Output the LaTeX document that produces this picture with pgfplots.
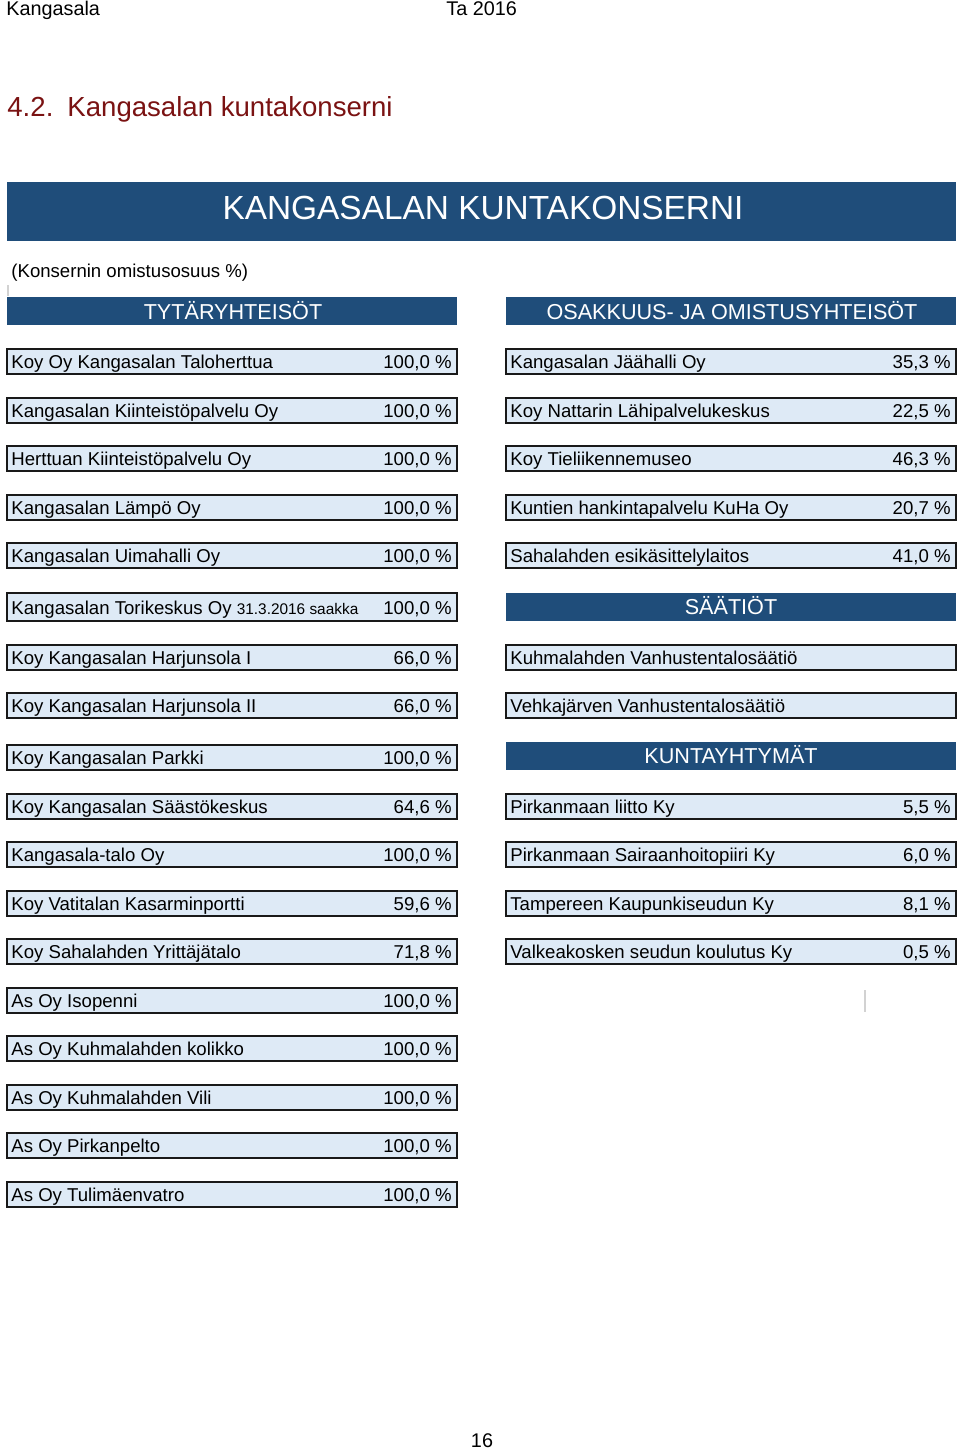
\documentclass[border=0pt]{standalone}
\usepackage{pgfplots}
\pgfplotsset{compat=1.18}
\usepackage{fontspec}
\setmainfont{Liberation Sans}

\definecolor{hdrblue}{RGB}{31,77,122}
\definecolor{cellblue}{RGB}{222,234,246}
\definecolor{titlered}{RGB}{122,18,18}

\pgfkeys{/pgf/number format/.cd, fixed, fixed zerofill, precision=1, use comma, assume math mode=true}
\newcommand{\pct}[1]{\pgfmathprintnumber{#1}~\%}

\tikzset{
  cell/.style={draw=black!90, line width=1pt, fill=cellblue},
  hdr/.style={fill=hdrblue, draw=none},
  txt/.style={font=\fontsize{9.3}{11}\selectfont, inner sep=0pt},
  htxt/.style={font=\fontsize{10.8}{13}\selectfont, text=white, inner sep=0pt, anchor=base},
}

% left column cell: y centre, name, value
\newcommand{\cellL}[3]{%
  \draw[cell] (axis cs:7,{#1-12.5}) rectangle (axis cs:457,{#1+12.5});
  \node[txt, anchor=base west] at (axis cs:11,{#1+7}) {#2};
  \node[txt, anchor=base east] at (axis cs:452,{#1+7}) {\pct{#3}};
}
% right column cell
\newcommand{\cellR}[3]{%
  \draw[cell] (axis cs:506,{#1-12.5}) rectangle (axis cs:956,{#1+12.5});
  \node[txt, anchor=base west] at (axis cs:510,{#1+7}) {#2};
  \node[txt, anchor=base east] at (axis cs:951,{#1+7}) {\pct{#3}};
}
% right column cell without a value
\newcommand{\cellN}[2]{%
  \draw[cell] (axis cs:506,{#1-12.5}) rectangle (axis cs:956,{#1+12.5});
  \node[txt, anchor=base west] at (axis cs:510,{#1+7}) {#2};
}
% right column header bar
\newcommand{\hdrR}[2]{%
  \fill[hdr] (axis cs:506,{#1-14}) rectangle (axis cs:956,{#1+14});
  \node[htxt] at (axis cs:731,{#1+7.5}) {#2};
}

\begin{document}
\begin{tikzpicture}
\begin{axis}[
  scale only axis,
  width=480pt, height=724.5pt,
  xmin=0, xmax=960, ymin=0, ymax=1449,
  y dir=reverse,
  hide axis,
  clip=false,
]
\path (axis cs:0,0) rectangle (axis cs:960,1449);

% page head
\node[inner sep=0pt, anchor=base west, font=\fontsize{9.9}{12}\selectfont] at (axis cs:6,16) {Kangasala};
\node[inner sep=0pt, anchor=base west, font=\fontsize{9.9}{12}\selectfont] at (axis cs:446,16) {Ta 2016};
\node[inner sep=0pt, anchor=base west, text=titlered, font=\fontsize{13.8}{16}\selectfont] at (axis cs:7,117) {4.2.};
\node[inner sep=0pt, anchor=base west, text=titlered, font=\fontsize{13.8}{16}\selectfont] at (axis cs:67,117) {Kangasalan kuntakonserni};

% main banner
\fill[hdr] (axis cs:7,182) rectangle (axis cs:956,241);
\node[inner sep=0pt, anchor=base, text=white, font=\fontsize{16.7}{20}\selectfont] at (axis cs:483,219) {KANGASALAN KUNTAKONSERNI};
\node[txt, anchor=base west] at (axis cs:11,277) {(Konsernin omistusosuus \%)};
\draw[gray!35, line width=0.6pt] (axis cs:8,285) -- (axis cs:8,296);

% section headers
\fill[hdr] (axis cs:7,297) rectangle (axis cs:457,325);
\node[htxt] at (axis cs:233,319) {TYTÄRYHTEISÖT};
\fill[hdr] (axis cs:506,297) rectangle (axis cs:956,325);
\node[htxt] at (axis cs:732,319) {OSAKKUUS- JA OMISTUSYHTEISÖT};

% tytäryhteisöt
\cellL{361.5}{Koy Oy Kangasalan Taloherttua}{100.0}
\cellL{410}{Kangasalan Kiinteistöpalvelu Oy}{100.0}
\cellL{458.5}{Herttuan Kiinteistöpalvelu Oy}{100.0}
\cellL{507}{Kangasalan Lämpö Oy}{100.0}
\cellL{555.5}{Kangasalan Uimahalli Oy}{100.0}
\draw[cell] (axis cs:7,593) rectangle (axis cs:457,621);
\node[txt, anchor=base west] at (axis cs:11,614) {Kangasalan Torikeskus Oy \fontsize{7.7}{9}\selectfont 31.3.2016 saakka};
\node[txt, anchor=base east] at (axis cs:452,614) {\pct{100.0}};
\cellL{657}{Koy Kangasalan Harjunsola I}{66.0}
\cellL{705.5}{Koy Kangasalan Harjunsola II}{66.0}
\cellL{757}{Koy Kangasalan Parkki}{100.0}
\cellL{806}{Koy Kangasalan Säästökeskus}{64.6}
\cellL{854.5}{Kangasala-talo Oy}{100.0}
\cellL{903}{Koy Vatitalan Kasarminportti}{59.6}
\cellL{951.5}{Koy Sahalahden Yrittäjätalo}{71.8}
\cellL{1000}{As Oy Isopenni}{100.0}
\cellL{1048.5}{As Oy Kuhmalahden kolikko}{100.0}
\cellL{1097}{As Oy Kuhmalahden Vili}{100.0}
\cellL{1145.5}{As Oy Pirkanpelto}{100.0}
\cellL{1194}{As Oy Tulimäenvatro}{100.0}

% osakkuus- ja omistusyhteisöt
\cellR{361.5}{Kangasalan Jäähalli Oy}{35.3}
\cellR{410}{Koy Nattarin Lähipalvelukeskus}{22.5}
\cellR{458.5}{Koy Tieliikennemuseo}{46.3}
\cellR{507}{Kuntien hankintapalvelu KuHa Oy}{20.7}
\cellR{555.5}{Sahalahden esikäsittelylaitos}{41.0}

% säätiöt
\hdrR{606.5}{SÄÄTIÖT}
\cellN{657}{Kuhmalahden Vanhustentalosäätiö}
\cellN{705.5}{Vehkajärven Vanhustentalosäätiö}

% kuntayhtymät
\hdrR{756}{KUNTAYHTYMÄT}
\cellR{806}{Pirkanmaan liitto Ky}{5.5}
\cellR{854.5}{Pirkanmaan Sairaanhoitopiiri Ky}{6.0}
\cellR{903}{Tampereen Kaupunkiseudun Ky}{8.1}
\cellR{951.5}{Valkeakosken seudun koulutus Ky}{0.5}
\draw[gray!35, line width=0.8pt] (axis cs:865,990) -- (axis cs:865,1012);

% page number
\node[inner sep=0pt, anchor=base, font=\fontsize{9.9}{12}\selectfont] at (axis cs:482,1447) {16};
\end{axis}
\end{tikzpicture}
\end{document}
